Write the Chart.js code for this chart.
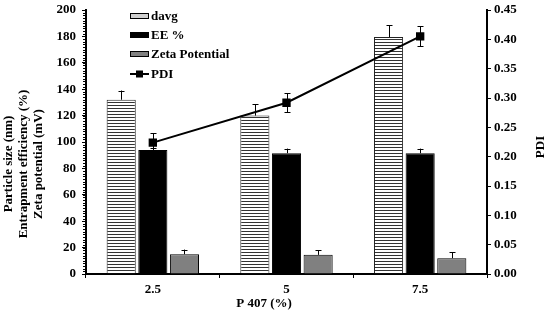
<!DOCTYPE html>
<html>
<head>
<meta charset="utf-8">
<script src="https://cdn.jsdelivr.net/npm/chart.js@4.4.1/dist/chart.umd.min.js"></script>
<style>
html,body{margin:0;padding:0;background:#fff;}
#wrap{width:550px;height:321px;position:relative;}
</style>
</head>
<body>
<div id="wrap"><canvas id="c" width="550" height="321"></canvas></div>
<script>
const categories = ['2.5', '5', '7.5'];
const davg = [132, 120, 179.5];
const davgErr = [7, 8.5, 9];
const ee = [94, 91.5, 91.5];
const eeErr = [1.5, 3.5, 3.5];
const zeta = [15, 14.5, 12];
const zetaErr = [3.5, 3.5, 4.5];
const pdi = [0.224, 0.292, 0.405];
const pdiErr = [0.016, 0.016, 0.017];
const leftTicks = [0, 20, 40, 60, 80, 100, 120, 140, 160, 180, 200];
const rightTicks = [0, 0.05, 0.10, 0.15, 0.20, 0.25, 0.30, 0.35, 0.40, 0.45];
const yTitleLines = ['Particle size (nm)', 'Entrapment efficiency (%)', 'Zeta potential (mV)'];
const y1Title = 'PDI';
const xTitle = 'P 407 (%)';

const FONT = '"Liberation Serif", "Times New Roman", serif';

function stripePattern() {
  const pc = document.createElement('canvas');
  pc.width = 8; pc.height = 3;
  const g = pc.getContext('2d');
  g.fillStyle = '#ffffff'; g.fillRect(0, 0, 8, 3);
  g.fillStyle = '#333333'; g.fillRect(0, 0, 8, 1);
  return document.getElementById('c').getContext('2d').createPattern(pc, 'repeat');
}
const stripes = stripePattern();

const errorBars = {
  id: 'errorBars',
  afterDatasetsDraw(chart) {
    const ctx = chart.ctx;
    ctx.save();
    ctx.strokeStyle = '#000';
    ctx.lineWidth = 1;
    chart.data.datasets.forEach((ds, di) => {
      if (!ds.errors) return;
      const meta = chart.getDatasetMeta(di);
      const scale = chart.scales[meta.yAxisID];
      meta.data.forEach((el, i) => {
        const v = ds.data[i], e = ds.errors[i];
        const x = Math.round(el.x) + 0.5;
        const yTop = scale.getPixelForValue(v + e);
        const yBot = ds.twoSided ? scale.getPixelForValue(v - e) : scale.getPixelForValue(v);
        ctx.beginPath();
        ctx.moveTo(x, yTop); ctx.lineTo(x, yBot);
        ctx.moveTo(x - 3, Math.round(yTop) + 0.5); ctx.lineTo(x + 3, Math.round(yTop) + 0.5);
        if (ds.twoSided) { ctx.moveTo(x - 3, Math.round(yBot) + 0.5); ctx.lineTo(x + 3, Math.round(yBot) + 0.5); }
        ctx.stroke();
      });
    });
    ctx.restore();
  }
};

const decorations = {
  id: 'decorations',
  afterDraw(chart) {
    const ctx = chart.ctx;
    const y = chart.scales.y;
    const area = chart.chartArea;
    ctx.save();
    ctx.strokeStyle = '#000';
    ctx.lineWidth = 1;
    ctx.beginPath();
    for (let v = 0; v <= 200; v += 2) {
      const py = Math.round(y.getPixelForValue(v)) + 0.5;
      ctx.moveTo(area.left - 3, py); ctx.lineTo(area.left, py);
    }
    ctx.stroke();
    ctx.fillStyle = '#000';
    ctx.font = 'bold 13px ' + FONT;
    ctx.textAlign = 'center';
    ctx.textBaseline = 'middle';
    const xs = [9, 24, 39];
    yTitleLines.forEach((t, i) => {
      ctx.save();
      ctx.translate(xs[i], 164);
      ctx.rotate(-Math.PI / 2);
      ctx.fillText(t, 0, 0);
      ctx.restore();
    });
    ctx.save();
    ctx.translate(541, 147);
    ctx.rotate(-Math.PI / 2);
    ctx.fillText(y1Title, 0, 0);
    ctx.restore();
    ctx.fillText(xTitle, 264, 304);
    const lx = 130, ys = [16, 35, 54, 74];
    chart.data.datasets.forEach((ds, i) => {
      const cy = ys[i];
      if (ds.type === 'line') {
        ctx.strokeStyle = '#000'; ctx.lineWidth = 2;
        ctx.beginPath(); ctx.moveTo(lx, cy); ctx.lineTo(lx + 19, cy); ctx.stroke();
        ctx.fillStyle = '#000'; ctx.fillRect(lx + 6, cy - 3.5, 7, 7);
      } else {
        ctx.fillStyle = ds.legendFill || ds.backgroundColor;
        ctx.fillRect(lx, cy - 3, 19, 6);
        ctx.strokeStyle = '#000'; ctx.lineWidth = 1;
        ctx.strokeRect(lx + 0.5, cy - 2.5, 18, 5);
      }
      ctx.fillStyle = '#000';
      ctx.textAlign = 'left';
      ctx.fillText(ds.label, lx + 21, cy + 1);
    });
    ctx.restore();
  }
};

function fixY(w) {
  return function (s) { s.width = w; s.paddingTop = 0; s.paddingBottom = 0; };
}

new Chart(document.getElementById('c'), {
  type: 'bar',
  data: {
    labels: categories,
    datasets: [
      { type: 'bar', label: 'davg', data: davg, errors: davgErr, backgroundColor: stripes, legendFill: '#cfcfcf', borderColor: '#222', borderWidth: 1, yAxisID: 'y', order: 1 },
      { type: 'bar', label: 'EE %', data: ee, errors: eeErr, backgroundColor: '#000000', borderColor: '#000', borderWidth: 1, yAxisID: 'y', order: 1 },
      { type: 'bar', label: 'Zeta Potential', data: zeta, errors: zetaErr, backgroundColor: '#808080', borderColor: '#000', borderWidth: 1, yAxisID: 'y', order: 1 },
      { type: 'line', label: 'PDI', data: pdi, errors: pdiErr, twoSided: true, borderColor: '#000', backgroundColor: '#000', borderWidth: 2, pointStyle: 'rect', pointRadius: 4.5, pointBackgroundColor: '#000', yAxisID: 'y1', order: 0, tension: 0 }
    ]
  },
  options: {
    responsive: false,
    animation: false,
    devicePixelRatio: 1,
    layout: { padding: { top: 10, left: 0, right: 0, bottom: 0 } },
    datasets: { bar: { categoryPercentage: 0.71, barPercentage: 0.92 } },
    plugins: { legend: { display: false }, tooltip: { enabled: false } },
    scales: {
      x: {
        grid: { drawOnChartArea: false, tickLength: 4, color: '#000', offset: true },
        border: { color: '#000', width: 2 },
        ticks: { color: '#000', font: { family: FONT, size: 13, weight: 'bold' }, padding: 4 },
        afterFit(s) { s.height = 47; s.paddingLeft = 0; s.paddingRight = 0; }
      },
      y: {
        position: 'left',
        min: 0, max: 200,
        afterBuildTicks(s) { s.ticks = leftTicks.map(v => ({ value: v })); },
        grid: { drawOnChartArea: false, tickLength: 4, color: '#000' },
        border: { color: '#000', width: 2 },
        ticks: { color: '#000', font: { family: FONT, size: 13, weight: 'bold' }, padding: 6 },
        afterFit: fixY(86)
      },
      y1: {
        position: 'right',
        min: 0, max: 0.45,
        afterBuildTicks(s) { s.ticks = rightTicks.map(v => ({ value: v })); },
        grid: { drawOnChartArea: false, tickLength: 4, color: '#000' },
        border: { color: '#000', width: 2 },
        ticks: { color: '#000', font: { family: FONT, size: 13, weight: 'bold' }, padding: 3, callback: v => Number(v).toFixed(2) },
        afterFit: fixY(63)
      }
    }
  },
  plugins: [errorBars, decorations]
});
</script>
</body>
</html>
